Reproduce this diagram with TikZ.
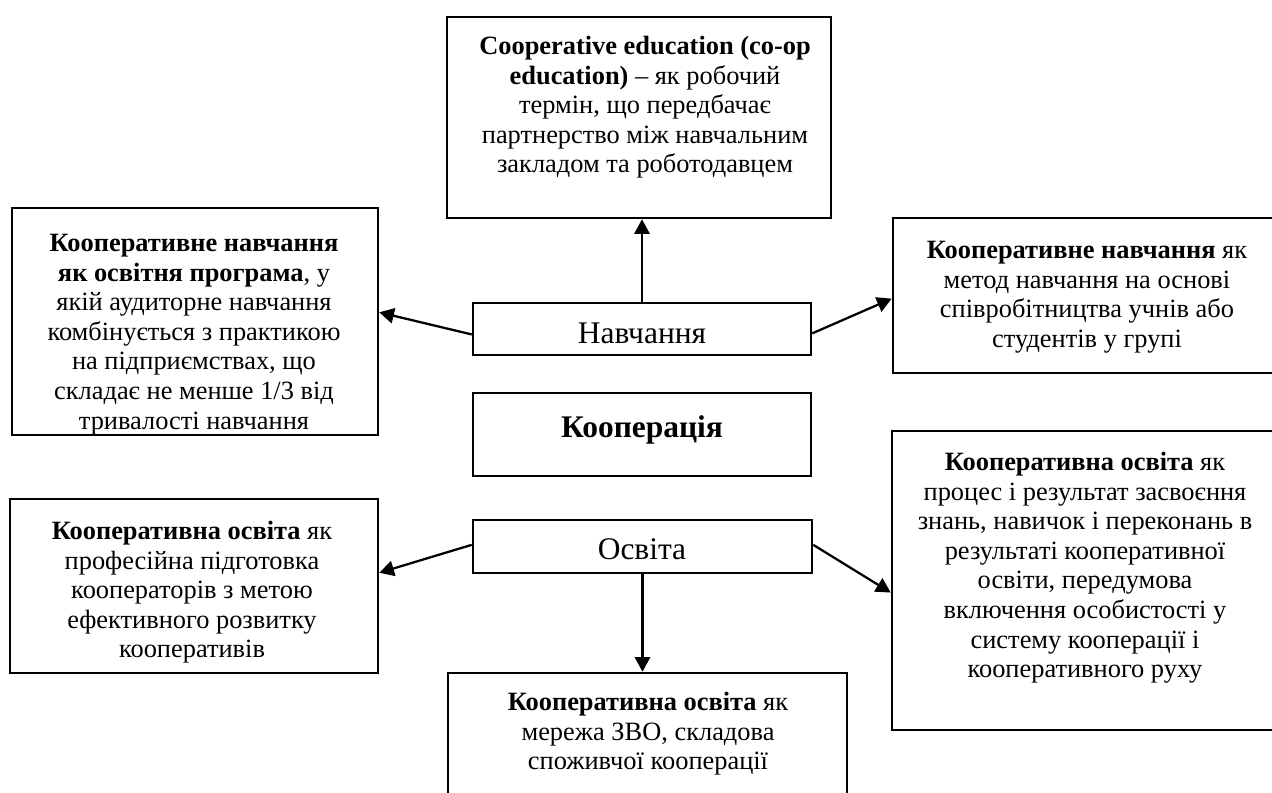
\documentclass[tikz,border=0pt]{standalone}
\usepackage{fontspec}
\setmainfont{Liberation Serif}
\usetikzlibrary{arrows.meta,calc}
\tikzset{
  box/.style 2 args={draw=black, line width=1.9pt, fill=none, inner sep=0pt,
    minimum width=#1*0.75pt, minimum height=#2*0.75pt},
  body/.style={inner sep=0pt, align=center, anchor=north,
    font=\fontsize{19.8pt}{22.2pt}\selectfont},
  big/.style={inner sep=0pt, anchor=base, font=\fontsize{23.6pt}{27pt}\selectfont},
  arr/.style={line width=1.7pt, -{Triangle[length=11pt,width=11.5pt]}}
}
\begin{document}
\begin{tikzpicture}[x=0.75pt,y=-0.75pt]
\useasboundingbox (0,0) rectangle (1272,793);
\clip (0,0) rectangle (1272,793);
% boxes
\node[box={384}{201}] (top) at (639,117.5) {};
\node[box={366}{227}] (lt) at (195,321.5) {};
\node[box={388}{155}] (rt) at (1087,295.5) {};
\node[box={338}{52}] (nav) at (642,329) {};
\node[box={338}{83}] (koop) at (642,434.5) {};
\node[box={339}{53}] (osv) at (642.5,546.5) {};
\node[box={368}{174}] (lb) at (194,586) {};
\node[box={386}{299}] (rb) at (1085,580.5) {};
\node[box={399}{137}] (bot) at (647.5,741.5) {};
% texts
\node[body] (ttop) at (645,36) {\textbf{Cooperative education (co-op}\\ \textbf{education)} – як робочий\\ термін, що передбачає\\ партнерство між навчальним\\ закладом та роботодавцем};
\node[body] (tlt) at (194,234) {\textbf{Кооперативне навчання}\\ \textbf{як освітня програма}, у\\ якій аудиторне навчання\\ комбінується з практикою\\ на підприємствах, що\\ складає не менше 1/3 від\\ тривалості навчання};
\node[body] (trt) at (1087,241) {\textbf{Кооперативне навчання} як\\ метод навчання на основі\\ співробітництва учнів або\\ студентів у групі};
\node[body] (tlb) at (192,521) {\textbf{Кооперативна освіта} як\\ професійна підготовка\\ кооператорів з метою\\ ефективного розвитку\\ кооперативів};
\node[body] (trb) at (1085,452) {\textbf{Кооперативна освіта} як\\ процес і результат засвоєння\\ знань, навичок і переконань в\\ результаті кооперативної\\ освіти, передумова\\ включення особистості у\\ систему кооперації і\\ кооперативного руху};
\node[body] (tbot) at (648,692) {\textbf{Кооперативна освіта} як\\ мережа ЗВО, складова\\ споживчої кооперації};
\node[big] (tnav) at (642,343) {Навчання};
\node[big] (tkoop) at (642,437) {\textbf{Кооперація}};
\node[big] (tosv) at (642,559) {Освіта};
% connectors
\draw[arr] (nav.north) -- (nav.north |- top.south);
\draw[arr] ($(nav.north west)!0.6!(nav.south west)$) -- ($(lt.north east)!0.46!(lt.south east)$);
\draw[arr] ($(nav.north east)!0.58!(nav.south east)$) -- ($(rt.north west)!0.52!(rt.south west)$);
\draw[arr] ($(osv.north west)!0.47!(osv.south west)$) -- ($(lb.north east)!0.425!(lb.south east)$);
\draw[arr] ($(osv.north east)!0.47!(osv.south east)$) -- ($(rb.north west)!0.54!(rb.south west)$);
\draw[arr] (osv.south) -- (osv.south |- bot.north);
\end{tikzpicture}
\end{document}
